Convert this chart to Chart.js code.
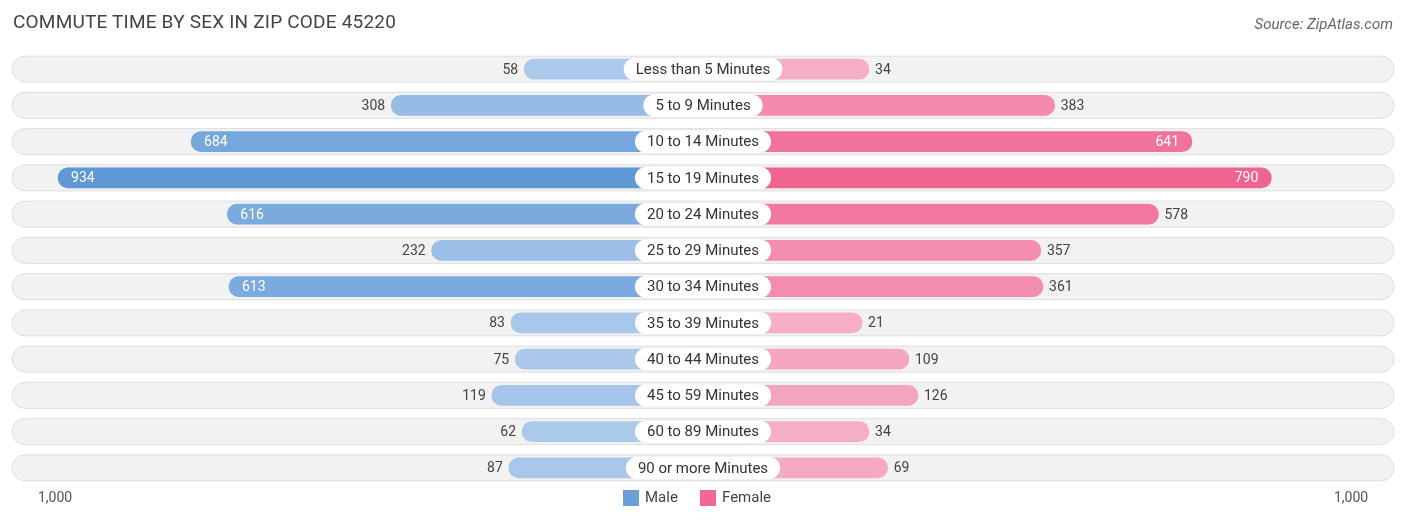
<!DOCTYPE html>
<html><head><meta charset="utf-8">
<script src="https://cdn.jsdelivr.net/npm/chart.js@4.4.0/dist/chart.umd.min.js"></script>
<style>
body{margin:0;background:#fff;font-family:Roboto,"Open Sans",sans-serif;}
#wrap{position:relative;width:1406px;height:523px;}
#title{position:absolute;left:13px;top:10px;font-size:19px;color:#444;letter-spacing:0.2px}
#src{position:absolute;right:13px;top:15px;font-size:15px;color:#666;font-style:italic}
</style></head><body>
<div id="wrap">
<div id="title">COMMUTE TIME BY SEX IN ZIP CODE 45220</div>
<div id="src">Source: ZipAtlas.com</div>
<canvas id="c" width="1406" height="523"></canvas>
</div>
<script>
const categories=["Less than 5 Minutes","5 to 9 Minutes","10 to 14 Minutes","15 to 19 Minutes","20 to 24 Minutes","25 to 29 Minutes","30 to 34 Minutes","35 to 39 Minutes","40 to 44 Minutes","45 to 59 Minutes","60 to 89 Minutes","90 or more Minutes"];
const male=[58,308,684,934,616,232,613,83,75,119,62,87];
const female=[34,383,641,790,578,357,361,21,109,126,34,69];
const axisMax=1000;
const axisLabels=["1,000","1,000"];
const centerGap=278; // space reserved under the category label, in value units
const scaleHalf=1293;

function mix(a,b,t){return 'rgb('+a.map((v,i)=>Math.round(v+(b[i]-v)*t)).join(',')+')';}
const mc=male.map(v=>mix([176,204,236],[96,152,214],v/934));
const fc=female.map(v=>mix([246,176,200],[240,100,144],v/790));

const deco={id:'deco',
beforeDatasetsDraw(ch){
 const c=ch.ctx,y=ch.scales.y,a=ch.chartArea;
 categories.forEach((k,i)=>{const yc=y.getPixelForValue(i);
  c.save();c.fillStyle='#f2f2f2';c.strokeStyle='#dedede';c.lineWidth=1;
  c.beginPath();c.roundRect(a.left-3,yc-13,a.right-a.left+6,26,13);c.fill();c.stroke();c.restore();});
},
afterDatasetsDraw(ch){
 const c=ch.ctx,x=ch.scales.x,y=ch.scales.y;
 c.save();c.font='14px Roboto';c.textBaseline='middle';
 categories.forEach((k,i)=>{const yc=y.getPixelForValue(i);
  const m=male[i],f=female[i];
  const xm=x.getPixelForValue(-(m+centerGap)),xf=x.getPixelForValue(f+centerGap);
  if(m>600){c.fillStyle='#fff';c.textAlign='left';c.fillText(m,xm+13,yc+1);}
  else{c.fillStyle='#444';c.textAlign='right';c.fillText(m,xm-6,yc+1);}
  if(f>600){c.fillStyle='#fff';c.textAlign='right';c.fillText(f,xf-13,yc+1);}
  else{c.fillStyle='#444';c.textAlign='left';c.fillText(f,xf+6,yc+1);}
  c.font='15px Roboto';const w=c.measureText(k).width+24;const xc=x.getPixelForValue(0);
  c.fillStyle='#fff';c.beginPath();c.roundRect(xc-w/2,yc-11,w,22,11);c.fill();
  c.fillStyle='#333';c.textAlign='center';c.fillText(k,xc,yc+1);c.font='14px Roboto';
 });
 c.fillStyle='#555';c.textAlign='center';
 c.fillText(axisLabels[0],55,498);c.fillText(axisLabels[1],1351,498);
 c.font='15px Roboto';c.textAlign='left';
 c.fillStyle='#6a9fd8';c.fillRect(623,490,16,16);c.fillStyle='#444';c.fillText('Male',645,498);
 c.fillStyle='#f06894';c.fillRect(700,490,16,16);c.fillStyle='#444';c.fillText('Female',722,498);
 c.restore();
}};

new Chart(document.getElementById('c'),{type:'bar',
data:{labels:categories,datasets:[
 {data:male.map(v=>[-(v+centerGap),0]),backgroundColor:mc,borderRadius:10,borderSkipped:false,barThickness:20,grouped:false},
 {data:female.map(v=>[0,v+centerGap]),backgroundColor:fc,borderRadius:10,borderSkipped:false,barThickness:20,grouped:false}]},
options:{indexAxis:'y',responsive:false,animation:false,
 layout:{padding:{left:15,right:15,top:51,bottom:37}},
 plugins:{legend:{display:false},tooltip:{enabled:false}},
 scales:{x:{min:-scaleHalf,max:scaleHalf,display:false},
  y:{display:false}}},
plugins:[deco]});
</script></body></html>
